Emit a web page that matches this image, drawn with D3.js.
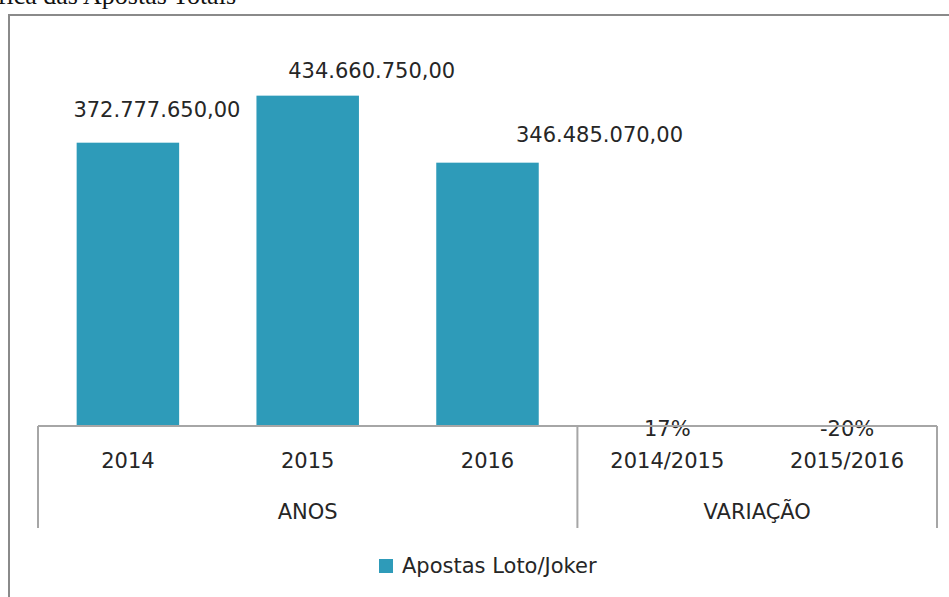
<!DOCTYPE html>
<html>
<head>
<meta charset="utf-8">
<script src="https://cdn.jsdelivr.net/npm/d3@7.9.0/dist/d3.min.js"></script>
<style>
  body { margin: 0; background: #fff; }
  svg { display: block; }
  text { font-family: "DejaVu Sans", sans-serif; fill: #262626; }
</style>
</head>
<body>
<svg id="chart" width="949" height="597"></svg>
<script>
// data
const categories = ['2014', '2015', '2016', '2014/2015', '2015/2016'];
const groups = ['ANOS', 'ANOS', 'ANOS', 'VARIAÇÃO', 'VARIAÇÃO'];
const values = [372777650, 434660750, 346485070, 0.17, -0.20];
const valueLabels = ['372.777.650,00', '434.660.750,00', '346.485.070,00', '17%', '-20%'];
const seriesName = 'Apostas Loto/Joker';

const svg = d3.select('#chart');
const barColor = '#2e9bb9';
const lineColor = '#a6a6a6';

// page title, cropped at the top like in the screenshot
svg.append('text')
    .attr('x', 236).attr('y', 4)
    .attr('text-anchor', 'end')
    .style('font-family', '"Liberation Serif", serif')
    .style('font-size', '26px')
    .style('fill', '#111')
    .text('Gráfica das Apostas Totais');

// outer frame (the crop cuts the right and bottom)
svg.append('rect')
    .attr('x', 9).attr('y', 15)
    .attr('width', 960).attr('height', 600)
    .attr('fill', 'none')
    .attr('stroke', '#8a8a8a')
    .attr('stroke-width', 2);

const x = d3.scaleBand()
    .domain(categories)
    .range([38, 937])
    .paddingInner(0.43)
    .paddingOuter(0.215);

const y = d3.scaleLinear()
    .domain([0, 500000000])
    .range([426, 46]);

// bars
svg.append('g')
    .selectAll('rect')
    .data(values)
    .join('rect')
    .attr('x', (d, i) => x(categories[i]))
    .attr('width', x.bandwidth())
    .attr('y', d => y(Math.max(0, d)))
    .attr('height', d => Math.abs(y(d) - y(0)))
    .attr('fill', barColor);

// data labels (moved by hand in the original)
const nudgeX = [29, 64, 112, 0, 0];
const nudgeY = [-32, -24, -27, 4, 4];
svg.append('g')
    .selectAll('text')
    .data(values)
    .join('text')
    .attr('x', (d, i) => x(categories[i]) + x.bandwidth() / 2 + nudgeX[i])
    .attr('y', (d, i) => y(Math.max(0, d)) + nudgeY[i])
    .attr('text-anchor', 'middle')
    .attr('dominant-baseline', 'middle')
    .style('font-size', '21px')
    .text((d, i) => valueLabels[i]);

// category axis
const axisY = y(0);
svg.append('line')
    .attr('x1', 38).attr('x2', 937)
    .attr('y1', axisY).attr('y2', axisY)
    .attr('stroke', lineColor).attr('stroke-width', 2);

svg.append('g')
    .selectAll('text')
    .data(categories)
    .join('text')
    .attr('x', d => x(d) + x.bandwidth() / 2)
    .attr('y', axisY + 36)
    .attr('text-anchor', 'middle')
    .attr('dominant-baseline', 'middle')
    .style('font-size', '21px')
    .text(d => d);

// group level of the axis
const groupSpans = d3.rollups(
    categories.map((c, i) => ({ c, g: groups[i] })),
    v => [x(v[0].c) - x.step() * x.paddingInner() / 2,
          x(v[v.length - 1].c) + x.bandwidth() + x.step() * x.paddingInner() / 2],
    d => d.g
);

const seps = [38, ...groupSpans.map(([, s]) => Math.min(937, s[1]))];
svg.append('g')
    .selectAll('line')
    .data(seps)
    .join('line')
    .attr('x1', d => d).attr('x2', d => d)
    .attr('y1', axisY).attr('y2', 528)
    .attr('stroke', lineColor).attr('stroke-width', 2);

svg.append('g')
    .selectAll('text')
    .data(groupSpans)
    .join('text')
    .attr('x', ([, s]) => (Math.max(38, s[0]) + Math.min(937, s[1])) / 2)
    .attr('y', axisY + 87)
    .attr('text-anchor', 'middle')
    .attr('dominant-baseline', 'middle')
    .style('font-size', '21px')
    .text(([g]) => g);

// legend
const legend = svg.append('g').attr('transform', 'translate(379,566)');
legend.append('rect')
    .attr('x', 0).attr('y', -7)
    .attr('width', 14).attr('height', 14)
    .attr('fill', barColor);
legend.append('text')
    .attr('x', 23).attr('y', 1)
    .attr('dominant-baseline', 'middle')
    .style('font-size', '21px')
    .text(seriesName);
</script>
</body>
</html>
